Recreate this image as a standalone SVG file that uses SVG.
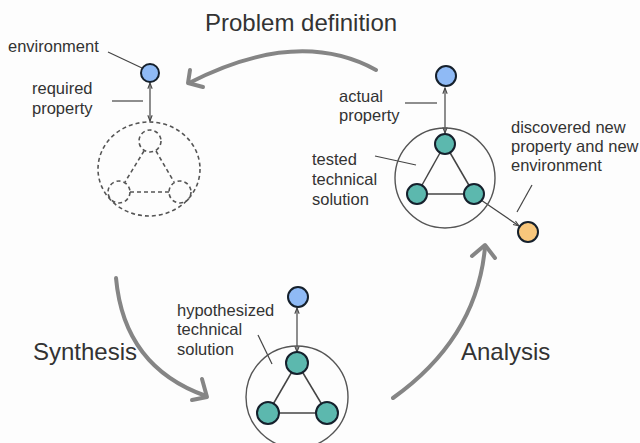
<svg xmlns="http://www.w3.org/2000/svg" width="640" height="443" viewBox="0 0 640 443">
<style>
.bg{fill:#fdfdfd}
.lbl{font-family:"Liberation Sans",Arial,sans-serif;font-size:16.5px;fill:#333}
.big{font-family:"Liberation Sans",Arial,sans-serif;font-size:24px;fill:#333}
.lead{stroke:#444;stroke-width:1.2;fill:none}
.flow{stroke:#858585;stroke-width:4;fill:none;stroke-linecap:round;stroke-linejoin:round}
.blue{fill:#8fbaf5;stroke:#15202c;stroke-width:2}
.teal{fill:#5cb8ae;stroke:#15202c;stroke-width:2}
.orange{fill:#f8c77c;stroke:#15202c;stroke-width:2}
.ring{fill:none;stroke:#555;stroke-width:1.4}
.edge{stroke:#444;stroke-width:1.5}
.dash{fill:none;stroke:#555;stroke-width:1.6;stroke-dasharray:4 3}
.link{stroke:#444;stroke-width:1.2}
</style>
<defs>
<marker id="sa" viewBox="0 0 10 10" refX="9" refY="5" markerWidth="6" markerHeight="6" orient="auto-start-reverse"><path d="M1,2 L9,5 L1,8" fill="none" stroke="#444" stroke-width="1.5"/></marker>
</defs>
<rect class="bg" width="640" height="443"/>

<g id="connectors">
<path class="flow" d="M376,70 Q298,27 189,83"/>
<path class="flow" d="M190,70 L188,83 L203,87"/>
<path class="flow" d="M116,278 Q124,367 206,396"/>
<path class="flow" d="M202,379 L207,397 L192,400"/>
<path class="flow" d="M393,398 Q477,338 485,247"/>
<path class="flow" d="M472,256 L485,245 L495,258"/>
<line class="link" x1="150" y1="83" x2="150" y2="121" marker-start="url(#sa)" marker-end="url(#sa)"/>
<line class="link" x1="445" y1="88" x2="445" y2="133" marker-start="url(#sa)" marker-end="url(#sa)"/>
<line class="link" x1="297" y1="308" x2="297" y2="352" marker-start="url(#sa)" marker-end="url(#sa)"/>
<line class="link" x1="481" y1="200" x2="519" y2="226" marker-end="url(#sa)"/>
<line class="lead" x1="108" y1="52" x2="142" y2="68"/>
<line class="lead" x1="112" y1="101" x2="143" y2="101"/>
<line class="lead" x1="405" y1="103" x2="437" y2="103"/>
<line class="lead" x1="375" y1="156" x2="416" y2="165"/>
<line class="lead" x1="532" y1="185" x2="517" y2="212"/>
<line class="lead" x1="258" y1="335" x2="272" y2="364"/>
</g>

<g id="title-problem"><text class="big" x="205" y="31">Problem definition</text></g>
<g id="title-synthesis"><text class="big" x="33" y="360">Synthesis</text></g>
<g id="title-analysis"><text class="big" x="461" y="360">Analysis</text></g>

<g id="required">
<circle class="blue" cx="150" cy="73" r="9"/>
<ellipse class="dash" cx="149" cy="169" rx="51" ry="47"/>
<circle class="dash" cx="150" cy="141" r="11"/>
<circle class="dash" cx="119" cy="192" r="11"/>
<circle class="dash" cx="180" cy="192" r="11"/>
<line class="dash" x1="144" y1="151" x2="125" y2="182"/>
<line class="dash" x1="156" y1="151" x2="174" y2="182"/>
<line class="dash" x1="130" y1="192" x2="169" y2="192"/>
<text class="lbl" x="8" y="52">environment</text>
<text class="lbl" x="32" y="94">required</text>
<text class="lbl" x="32" y="114">property</text>
</g>

<g id="tested">
<circle class="blue" cx="446" cy="76" r="10"/>
<circle class="ring" cx="445" cy="178" r="50"/>
<line class="edge" x1="445" y1="144" x2="417" y2="194"/>
<line class="edge" x1="445" y1="144" x2="474" y2="194"/>
<line class="edge" x1="417" y1="194" x2="474" y2="194"/>
<circle class="teal" cx="445" cy="144" r="10"/>
<circle class="teal" cx="417" cy="194" r="10"/>
<circle class="teal" cx="474" cy="194" r="10"/>
<text class="lbl" x="339" y="102">actual</text>
<text class="lbl" x="339" y="121">property</text>
<text class="lbl" x="312" y="165">tested</text>
<text class="lbl" x="312" y="185">technical</text>
<text class="lbl" x="312" y="205">solution</text>
</g>

<g id="discovered">
<circle class="orange" cx="528" cy="232" r="10"/>
<text class="lbl" x="511" y="133">discovered new</text>
<text class="lbl" x="511" y="152">property and new</text>
<text class="lbl" x="511" y="171">environment</text>
</g>

<g id="hypothesized">
<circle class="blue" cx="298" cy="297" r="10"/>
<circle class="ring" cx="297" cy="397" r="51"/>
<line class="edge" x1="297" y1="363" x2="268" y2="413"/>
<line class="edge" x1="297" y1="363" x2="327" y2="413"/>
<line class="edge" x1="268" y1="413" x2="327" y2="413"/>
<circle class="teal" cx="297" cy="363" r="11"/>
<circle class="teal" cx="268" cy="413" r="11"/>
<circle class="teal" cx="327" cy="413" r="11"/>
<text class="lbl" x="177" y="316">hypothesized</text>
<text class="lbl" x="177" y="335">technical</text>
<text class="lbl" x="177" y="355">solution</text>
</g>
</svg>
